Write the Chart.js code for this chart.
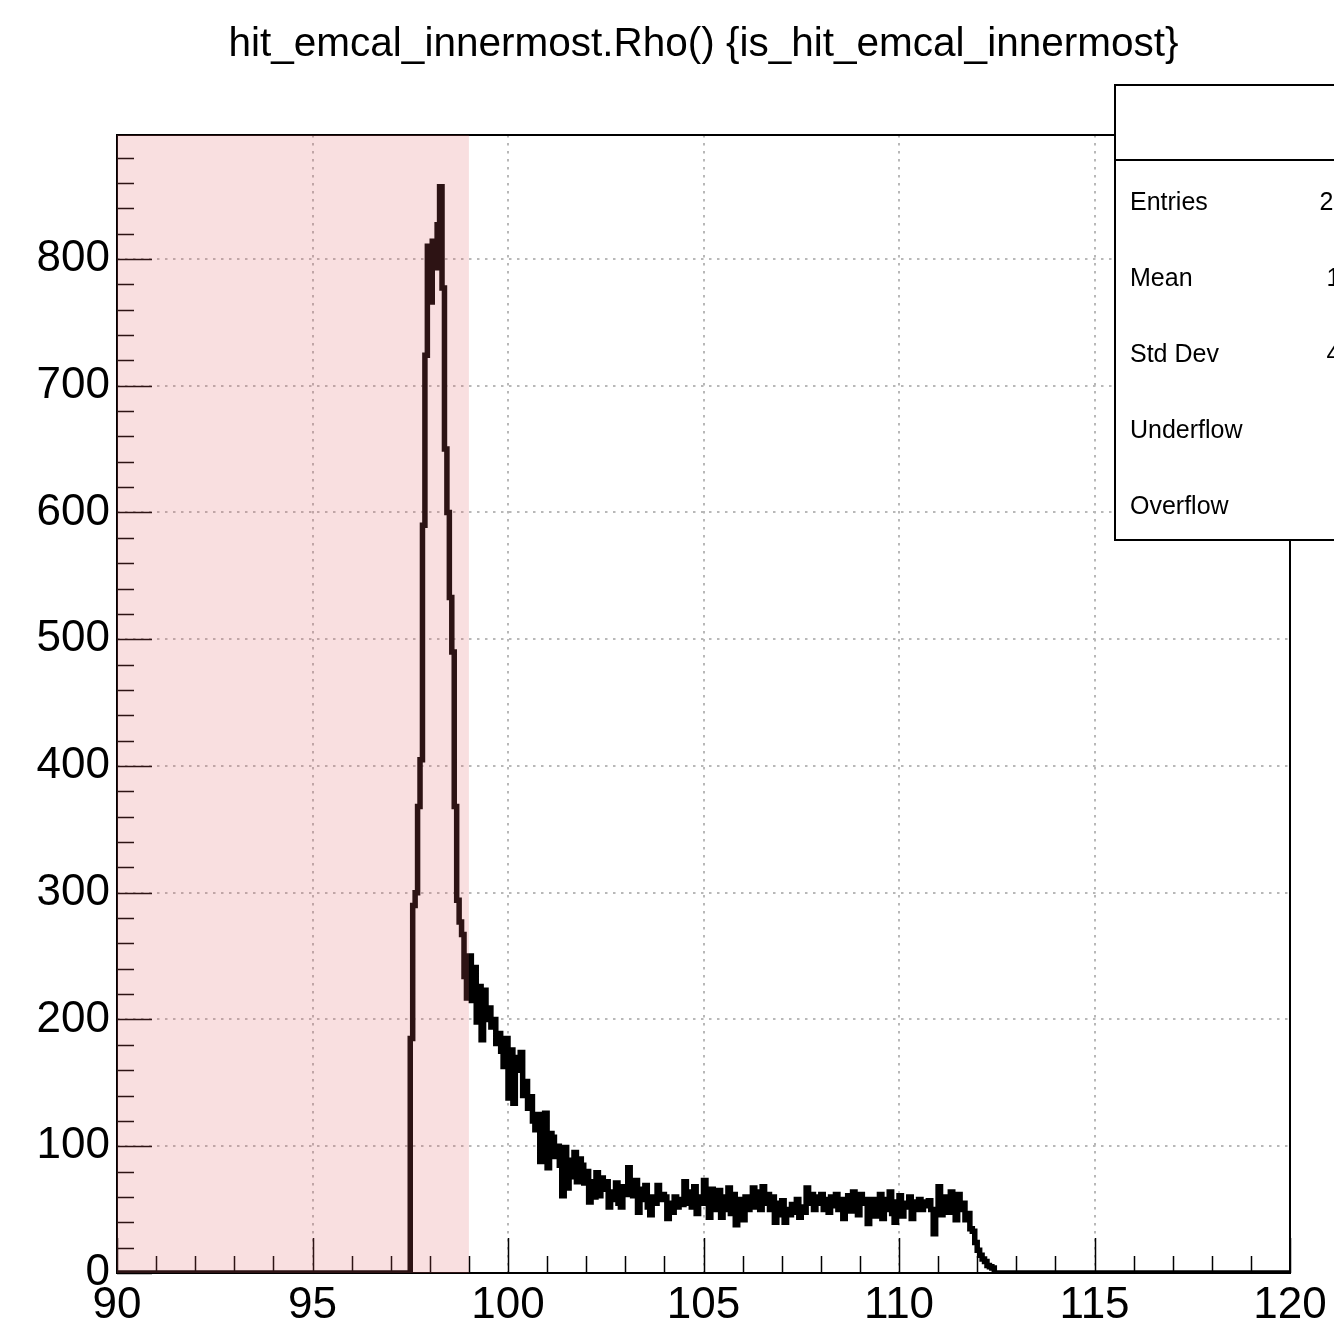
<!DOCTYPE html>
<html>
<head>
<meta charset="utf-8">
<script src="https://cdn.jsdelivr.net/npm/chart.js@4.4.1/dist/chart.umd.min.js"></script>
<style>
    html, body { margin: 0; padding: 0; background: #fff; }
    canvas { display: block; }
</style>
</head>
<body>
<canvas id="histChart" width="1334" height="1320" style="width:1334px;height:1320px"></canvas>
<script>
// Axis ranges and tick steps
const xMin = 90, xMax = 120;
const yMin = 0, yMax = 897.8;
const xMajorStep = 5, xMinorStep = 1;
const yMajorStep = 100, yMinorStep = 20;
const xTickValues = [90, 95, 100, 105, 110, 115, 120];
const yTickValues = [0, 100, 200, 300, 400, 500, 600, 700, 800];

// Histogram binning (0.0625 wide bins), first filled bin starts at 97.5
const binWidth = 0.0625;
const firstEdge = 97.5;

// Bins from 97.5 to 99.0 (inside the shaded band)
const peakCounts = [
    185, 290, 300, 368, 405, 590, 724, 810,
    766, 814, 793, 827, 857, 777, 650, 600,
    533, 490, 368, 294, 277, 267, 234, 217
];

// Bins from 99.0 up to the end of the tail (8 bins per 0.5)
const tailCounts = [
    250, 215, 241, 198, 226, 184, 223, 200,   // 99.0
    209, 194, 200, 181, 189, 175, 163, 185,   // 99.5
    138, 176, 134, 170, 160, 174, 140, 151,   // 100.0
    130, 139, 120, 113, 125, 88, 115, 126,    // 100.5
    83, 110, 107, 92, 100, 85, 61, 99,        // 101.0
    67, 89, 76, 95, 72, 90, 85, 71,           // 101.5
    80, 56, 72, 60, 79, 61, 75, 66,           // 102.0
    72, 52, 64, 58, 71, 55, 52, 68,           // 102.5
    62, 83, 70, 61, 73, 48, 66, 58,           // 103.0
    69, 52, 46, 60, 55, 69, 58, 62,           // 103.5
    60, 43, 55, 48, 60, 52, 58, 54,           // 104.0
    72, 55, 64, 52, 68, 47, 60, 55,           // 104.5
    73, 60, 44, 66, 58, 50, 65, 44,           // 105.0
    60, 50, 67, 47, 62, 38, 55, 58,           // 105.5
    42, 60, 50, 54, 67, 52, 64, 50,           // 106.0
    68, 55, 62, 50, 60, 40, 55, 46,           // 106.5
    57, 40, 50, 46, 54, 48, 58, 44,           // 107.0
    52, 48, 67, 55, 62, 50, 60, 55,           // 107.5
    62, 50, 58, 48, 60, 53, 62, 50,           // 108.0
    58, 43, 55, 61, 49, 64, 52, 46,           // 108.5
    62, 55, 58, 39, 52, 58, 45, 56,           // 109.0
    62, 43, 58, 50, 64, 47, 40, 56,           // 109.5
    61, 45, 55, 52, 60, 43, 56, 50,           // 110.0
    58, 50, 56, 53, 57, 50, 31, 46,           // 110.5
    68, 46, 60, 52, 48, 64, 55, 42,           // 111.0
    62, 50, 55, 42, 47, 35, 33, 24,           // 111.5
    18, 14, 11, 9, 6, 5, 4                    // 112.0
];

// Shaded band on the x axis
const shadeRange = [90, 99];

const titleText = 'hit_emcal_innermost.Rho() {is_hit_emcal_innermost}';
const statLabels = ['Entries', 'Mean', 'Std Dev', 'Underflow', 'Overflow'];

const FONT = '"Liberation Sans", Arial, Helvetica, sans-serif';

// Build step points at the bin low edges
const counts = peakCounts.concat(tailCounts);
const points = [{ x: xMin, y: 0 }];
counts.forEach((c, i) => points.push({ x: firstEdge + i * binWidth, y: c }));
const lastEdge = firstEdge + counts.length * binWidth;
points.push({ x: lastEdge, y: 0 }, { x: xMax, y: 0 });

// Stats for the box
function computeStats() {
    let n = 0, s = 0, s2 = 0;
    counts.forEach((c, i) => {
        const xc = firstEdge + (i + 0.5) * binWidth;
        n += c; s += c * xc; s2 += c * xc * xc;
    });
    const mean = s / n;
    const sd = Math.sqrt(s2 / n - mean * mean);
    return [String(Math.round(n)), mean.toPrecision(4), sd.toPrecision(4), '0', '0'];
}
const statValues = computeStats();

const rootStyle = {
    id: 'rootStyle',
    beforeDraw(chart) {
        const ctx = chart.ctx;
        ctx.save();
        ctx.fillStyle = '#ffffff';
        ctx.fillRect(0, 0, chart.width, chart.height);
        ctx.restore();
    },
    afterDatasetsDraw(chart) {
        const ctx = chart.ctx;
        const { left, right, top, bottom } = chart.chartArea;
        const xs = chart.scales.x, ys = chart.scales.y;

        ctx.save();
        // inner ticks
        ctx.strokeStyle = '#000';
        ctx.lineWidth = 1.5;
        ctx.beginPath();
        for (let v = xMin; v <= xMax + 1e-9; v += xMinorStep) {
            const px = Math.round(xs.getPixelForValue(v)) + 0.5;
            const len = (Math.round(v) % xMajorStep === 0) ? 35 : 17;
            ctx.moveTo(px, bottom);
            ctx.lineTo(px, bottom - len);
        }
        for (let v = yMin; v <= yMax; v += yMinorStep) {
            const py = Math.round(ys.getPixelForValue(v)) + 0.5;
            const len = (v % yMajorStep === 0) ? 35 : 17;
            ctx.moveTo(left, py);
            ctx.lineTo(left + len, py);
        }
        ctx.stroke();

        // frame
        ctx.lineWidth = 2;
        ctx.strokeRect(left, top, right - left, bottom - top);

        // shaded band (semi transparent, over the line)
        const x0 = xs.getPixelForValue(shadeRange[0]);
        const x1 = xs.getPixelForValue(shadeRange[1]);
        ctx.fillStyle = 'rgba(224, 93, 98, 0.2)';
        ctx.fillRect(x0, top, x1 - x0, bottom - top);

        // stats box
        const bx = 1115, by = 85, bw = 300, bh = 455, headH = 75;
        ctx.fillStyle = '#fff';
        ctx.fillRect(bx, by, bw, bh);
        ctx.strokeStyle = '#000';
        ctx.lineWidth = 2;
        ctx.strokeRect(bx, by, bw, bh);
        ctx.beginPath();
        ctx.moveTo(bx, by + headH);
        ctx.lineTo(bx + bw, by + headH);
        ctx.stroke();

        ctx.fillStyle = '#000';
        ctx.font = '25px ' + FONT;
        ctx.textBaseline = 'alphabetic';
        const rowH = (bh - headH) / statLabels.length;
        statLabels.forEach((lab, i) => {
            const yb = by + headH + rowH * (i + 0.5) + 12;
            ctx.textAlign = 'left';
            ctx.fillText(lab, bx + 15, yb);
            ctx.textAlign = 'right';
            ctx.fillText(statValues[i], 1389, yb);
        });

        // title
        ctx.font = '40.5px ' + FONT;
        ctx.textAlign = 'center';
        ctx.fillText(titleText, (left + right) / 2, 56);
        ctx.restore();
    }
};

const gridStyle = { color: '#b8b8b8', lineWidth: 2, drawTicks: false };

const ctx = document.getElementById('histChart').getContext('2d');
new Chart(ctx, {
    type: 'line',
    data: {
        datasets: [{
            data: points,
            borderColor: '#000000',
            borderWidth: 5.5,
            pointRadius: 0,
            stepped: true,
            fill: false
        }]
    },
    options: {
        responsive: false,
        animation: false,
        devicePixelRatio: 1,
        layout: { padding: { top: 135, right: 44, left: 0, bottom: 0 } },
        plugins: {
            legend: { display: false },
            tooltip: { enabled: false },
            title: { display: false }
        },
        scales: {
            x: {
                type: 'linear',
                min: xMin,
                max: xMax,
                afterFit: s => { s.height = 47; },
                afterBuildTicks: s => { s.ticks = xTickValues.map(v => ({ value: v })); },
                ticks: {
                    maxRotation: 0,
                    autoSkip: false,
                    padding: 6,
                    color: '#000',
                    font: { family: FONT, size: 44 }
                },
                grid: gridStyle,
                border: { display: false, dash: [2.5, 5.5] }
            },
            y: {
                min: yMin,
                max: yMax,
                afterFit: s => { s.width = 117; },
                afterBuildTicks: s => { s.ticks = yTickValues.map(v => ({ value: v })); },
                ticks: {
                    padding: 7,
                    color: '#000',
                    font: { family: FONT, size: 44 }
                },
                grid: gridStyle,
                border: { display: false, dash: [2.5, 5.5] }
            }
        }
    },
    plugins: [rootStyle]
});
</script>
</body>
</html>
